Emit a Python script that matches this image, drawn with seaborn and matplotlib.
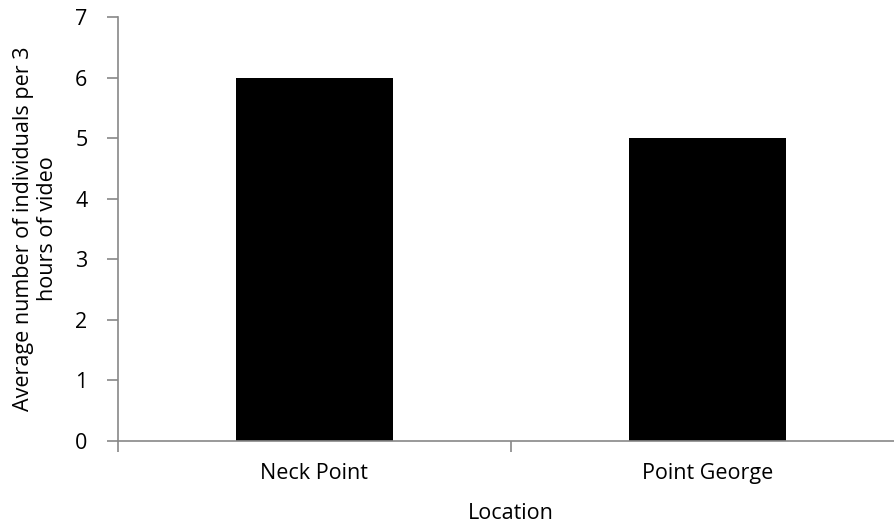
import matplotlib
matplotlib.use("Agg")
import pandas as pd
import matplotlib.pyplot as plt
import seaborn as sns

# Chart data
locations = ["Neck Point", "Point George"]
avg_individuals = [6, 5]

df = pd.DataFrame({"Location": locations, "Average": avg_individuals})

sns.set_style("white")
plt.rcParams["font.family"] = ["Open Sans", "DejaVu Sans"]
plt.rcParams["text.color"] = "black"
plt.rcParams["axes.labelcolor"] = "black"
plt.rcParams["xtick.color"] = "black"
plt.rcParams["ytick.color"] = "black"

fig = plt.figure(figsize=(8.95, 5.31), dpi=100)
ax = fig.add_axes([0.1318, 0.1704, 0.878, 0.7975])

sns.barplot(data=df, x="Location", y="Average", color="black", width=0.4,
            saturation=1, edgecolor="black", linewidth=0, ax=ax)

ax.set_xlim(-0.5, 1.5)
ax.set_ylim(0, 7)
ax.set_yticks(range(0, 8))

# category boundary ticks like the original
ax.set_xticks([-0.5, 0.5, 1.5], minor=False)
ax.set_xticklabels([])
ax.set_xticks([0, 1], minor=True)
ax.set_xticklabels(locations, minor=True)
ax.tick_params(axis="x", which="minor", length=0, pad=16, labelsize=15.5)
ax.tick_params(axis="x", which="major", length=8, width=1.2, color="#888888", direction="out")
ax.tick_params(axis="y", length=8, width=1.2, color="#888888", direction="out", pad=14,
               labelsize=15.5)
ax.tick_params(bottom=True, left=True)

for side in ["top", "right"]:
    ax.spines[side].set_visible(False)
for side in ["left", "bottom"]:
    ax.spines[side].set_color("#888888")
    ax.spines[side].set_linewidth(1.2)

ax.set_xlabel("Location", fontsize=15.5, labelpad=14)
ax.set_ylabel("Average number of individuals per 3\nhours of video", fontsize=15.5,
              labelpad=12)

fig.savefig("out.png", dpi=100)
